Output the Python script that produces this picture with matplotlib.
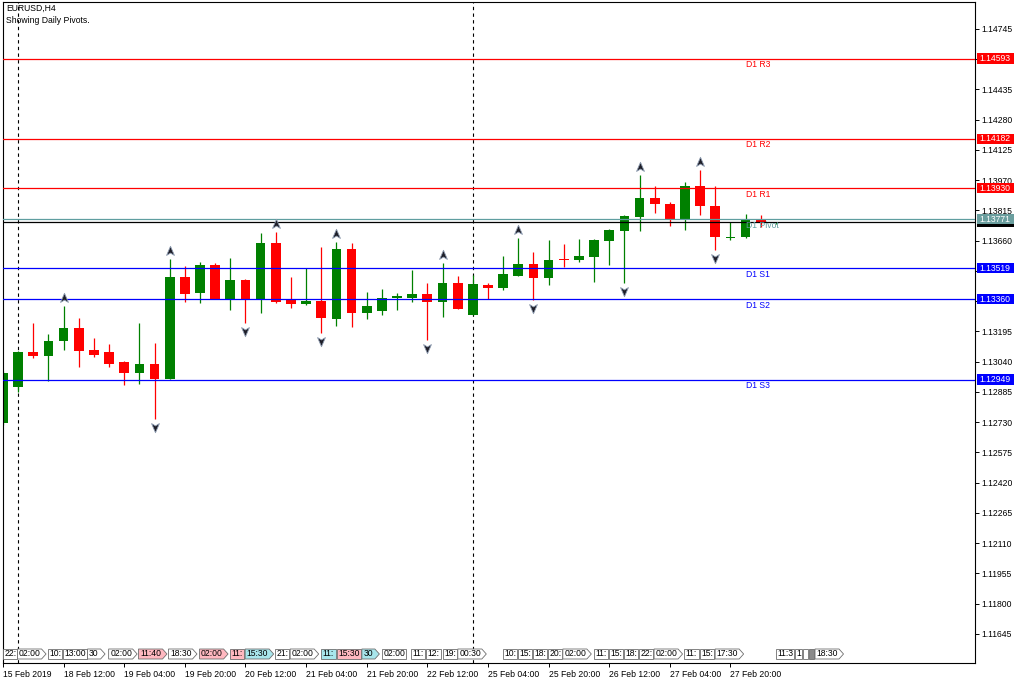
import numpy as np
import matplotlib
matplotlib.use('Agg')
import matplotlib.pyplot as plt
import matplotlib.transforms as mtransforms
from matplotlib.patches import Rectangle, Polygon
from matplotlib.path import Path

plt.rcParams['font.family'] = ['Liberation Sans', 'DejaVu Sans']
FS = 6.2

# EURUSD H4 bars, 15 Feb 2019 20:00 ... 28 Feb 2019 08:00
opens = [1.12725, 1.12912, 1.13088, 1.13071, 1.13145, 1.13211, 1.13100, 1.13090, 1.13039, 1.12984,
         1.13027, 1.12953, 1.13473, 1.13394, 1.13537, 1.13362, 1.13459, 1.13356, 1.13650, 1.13360,
         1.13336, 1.13353, 1.13258, 1.13616, 1.13291, 1.13300, 1.13368, 1.13368, 1.13387, 1.13348,
         1.13445, 1.13280, 1.13435, 1.13419, 1.13479, 1.13539, 1.13468, 1.13568, 1.13561, 1.13578,
         1.13660, 1.13710, 1.13783, 1.13878, 1.13848, 1.13770, 1.13941, 1.13838, 1.13674, 1.13681,
         1.13766, 1.13750]
highs = [1.12993, 1.13093, 1.13240, 1.13181, 1.13327, 1.13264, 1.13160, 1.13129, 1.13044, 1.13237,
         1.13135, 1.13565, 1.13531, 1.13551, 1.13544, 1.13570, 1.13464, 1.13698, 1.13703, 1.13473,
         1.13519, 1.13626, 1.13655, 1.13650, 1.13397, 1.13413, 1.13391, 1.13510, 1.13442, 1.13548,
         1.13479, 1.13485, 1.13445, 1.13582, 1.13673, 1.13601, 1.13664, 1.13642, 1.13667, 1.13667,
         1.13718, 1.13792, 1.13997, 1.13942, 1.13860, 1.13963, 1.14023, 1.13942, 1.13758, 1.13797,
         1.13792, 1.13758]
lows = [1.12718, 1.12883, 1.13058, 1.12941, 1.13100, 1.13015, 1.13066, 1.13015, 1.12921, 1.12926,
        1.12745, 1.12952, 1.13345, 1.13340, 1.13359, 1.13305, 1.13237, 1.13291, 1.13340, 1.13317,
        1.13333, 1.13189, 1.13223, 1.13220, 1.13258, 1.13280, 1.13305, 1.13348, 1.13151, 1.13271,
        1.13308, 1.13277, 1.13362, 1.13408, 1.13477, 1.13356, 1.13433, 1.13527, 1.13553, 1.13447,
        1.13536, 1.13442, 1.13710, 1.13804, 1.13736, 1.13715, 1.13792, 1.13612, 1.13664, 1.13673,
        1.13732, 1.13748]
closes = [1.12981, 1.13088, 1.13071, 1.13148, 1.13211, 1.13097, 1.13076, 1.13028, 1.12984, 1.13027,
          1.12953, 1.13473, 1.13389, 1.13537, 1.13362, 1.13459, 1.13356, 1.13650, 1.13345, 1.13334,
          1.13353, 1.13263, 1.13619, 1.13291, 1.13326, 1.13368, 1.13378, 1.13387, 1.13348, 1.13445,
          1.13310, 1.13437, 1.13419, 1.13490, 1.13539, 1.13468, 1.13561, 1.13561, 1.13582, 1.13664,
          1.13715, 1.13787, 1.13878, 1.13847, 1.13770, 1.13941, 1.13838, 1.13681, 1.13678, 1.13766,
          1.13752, 1.13755]

# daily pivot levels
pivot_names = ['D1 R3', 'D1 R2', 'D1 R1', 'D1 Pivot', 'D1 S1', 'D1 S2', 'D1 S3']
pivot_values = [1.14593, 1.14182, 1.13930, 1.13771, 1.13519, 1.13360, 1.12949]
pivot_colors = ['#FF0000', '#FF0000', '#FF0000', '#5F9EA0', '#0000FF', '#0000FF', '#0000FF']
pivot_box = ['#FF0000', '#FF0000', '#FF0000', '#6A9E9E', '#0000FF', '#0000FF', '#0000FF']
bid = 1.13755

# fractals (bar index)
frac_up = [4, 11, 18, 22, 29, 34, 42, 46]
frac_dn = [10, 16, 21, 28, 35, 41, 47]

# weekly separators (first bar of week)
week_start = [1, 31]

date_pos = [0, 4, 8, 12, 16, 20, 24, 28, 32, 36, 40, 44, 48]
date_labels = ['15 Feb 2019', '18 Feb 12:00', '19 Feb 04:00', '19 Feb 20:00', '20 Feb 12:00',
               '21 Feb 04:00', '21 Feb 20:00', '22 Feb 12:00', '25 Feb 04:00', '25 Feb 20:00',
               '26 Feb 12:00', '27 Feb 04:00', '27 Feb 20:00']

# economic calendar events (bar position, label, kind)
ev_pos = [0.0, 0.96, 2.97, 3.93, 5.58, 6.97, 8.94, 10.92, 12.97, 14.99, 15.98, 17.96, 18.95,
          20.98, 22.03, 23.68, 25.0, 26.93, 27.92, 29.02, 30.01, 32.98, 33.95, 34.96, 35.99,
          36.94, 38.99, 40.01, 41.0, 41.99, 42.96, 44.94, 46.0, 46.99, 51.01, 52.26, 52.8,
          53.2, 53.58]
ev_text = ['22:', '02:00', '10:', '13:00', '30', '02:00', '11:40', '18:30', '02:00', '11:',
           '15:30', '21:', '02:00', '11:', '15:30', '30', '02:00', '11:', '12:', '19:', '00:30',
           '10:', '15:', '18:', '20:', '02:00', '11:', '15:', '18:', '22:', '02:00', '11:', '15:',
           '17:30', '11:3', '1', '', '', '18:30']
ev_kind = ['n', 'n', 'n', 'n', 'n', 'n', 'r', 'n', 'r', 'r', 'c', 'n', 'n', 'c', 'r', 'c', 'n',
           'n', 'n', 'n', 'n', 'n', 'n', 'n', 'n', 'n', 'n', 'n', 'n', 'n', 'n', 'n', 'n', 'n',
           'n', 'n', 'n', 'g', 'n']

W, H = 1024, 683
fig = plt.figure(figsize=(W / 100, H / 100), dpi=100)
L, R, T, B = 3, 975, 2, 663
ax = fig.add_axes([L / W, 1 - B / H, (R - L) / W, (B - T) / H])

x0_px, bar_px = 2.7, 15.16
ax.set_xlim((L - x0_px) / bar_px, (R - x0_px) / bar_px)
ref_p, ref_y, px_per_price = 1.14745, 29, 19516
ax.set_ylim(ref_p - (B - ref_y) / px_per_price, ref_p + (ref_y - T) / px_per_price)

# candles
o, h, l, c = map(np.array, (opens, highs, lows, closes))
x = np.arange(len(o))
col = np.where(c >= o, '#008000', '#FF0000')
ax.vlines(x, l, h, colors=col, lw=0.9, zorder=2)
body = np.maximum(np.abs(c - o), 1.4 / px_per_price)
ax.bar(x, body, bottom=(o + c) / 2 - body / 2, width=0.64, color=col, linewidth=0, zorder=2.2)

# week separators
for w in week_start:
    ax.axvline(w, color='black', lw=0.8, ls=(0, (3, 3)), zorder=1.5)

# pivot lines and labels
for name, v, cl in zip(pivot_names, pivot_values, pivot_colors):
    ax.axhline(v, color=cl, lw=0.9, zorder=3)
    ax.text(49, v - 1.5 / px_per_price, name, color=cl, fontsize=FS, ha='left', va='top', zorder=4)
ax.axhline(bid, color='black', lw=0.9, zorder=3)

# fractal arrows
arrow_up = Path([(0, 1), (0.75, -0.75), (0, -0.3), (-0.75, -0.75), (0, 1)],
                [Path.MOVETO, Path.LINETO, Path.LINETO, Path.LINETO, Path.CLOSEPOLY])
arrow_dn = Path([(0, -1), (0.75, 0.75), (0, 0.3), (-0.75, 0.75), (0, -1)],
                [Path.MOVETO, Path.LINETO, Path.LINETO, Path.LINETO, Path.CLOSEPOLY])
off_up = mtransforms.offset_copy(ax.transData, fig=fig, y=8, units='dots')
off_dn = mtransforms.offset_copy(ax.transData, fig=fig, y=-8, units='dots')
ax.plot(frac_up, h[frac_up], ls='none', marker=arrow_up, ms=7.5, mfc='#1e1e28', mec='#8d9bb0',
        mew=0.6, transform=off_up, zorder=5)
ax.plot(frac_dn, l[frac_dn], ls='none', marker=arrow_dn, ms=7.5, mfc='#1e1e28', mec='#8d9bb0',
        mew=0.6, transform=off_dn, zorder=5)

# axes styling
for s in ax.spines.values():
    s.set_color('black')
    s.set_linewidth(0.8)
ax.yaxis.tick_right()
yt = np.round(1.11645 + 0.00155 * np.arange(21), 5)
ax.set_yticks(yt)
# labels hidden under the price boxes are left blank
box_levels = pivot_values + [bid]
ax.set_yticklabels(['' if min(abs(v - b) for b in box_levels) * px_per_price < 7 else f'{v:.5f}'
                    for v in yt])
ax.tick_params(axis='y', direction='out', length=3, width=0.7, pad=1.5, labelsize=FS)
ax.set_xticks(date_pos)
ax.set_xticklabels(date_labels, ha='left')
ax.tick_params(axis='x', direction='out', length=3, width=0.7, pad=2, labelsize=FS)

# price boxes on right scale
trans_r = mtransforms.blended_transform_factory(ax.transAxes, ax.transData)
half = 5.2 / px_per_price
bw = 37 / (R - L)
ax.add_patch(Rectangle((1.0018, bid - half), bw, 2 * half, transform=trans_r, fc='black',
                       ec='none', clip_on=False, zorder=6))
for v, fc in zip(pivot_values, pivot_box):
    ax.add_patch(Rectangle((1.0018, v - half), bw, 2 * half, transform=trans_r, fc=fc, ec='none',
                           clip_on=False, zorder=6))
    ax.text(1.0018 + 2.5 / (R - L), v, f'{v:.5f}', transform=trans_r, color='white', fontsize=FS,
            ha='left', va='center', clip_on=False, zorder=7)

# calendar event tags along the bottom
trans_b = mtransforms.blended_transform_factory(ax.transData, ax.transAxes)
yb, yt_ = (B - 659) / (B - T), (B - 649) / (B - T)
ym = (yb + yt_) / 2
fills = {'n': 'white', 'r': '#FFB8C0', 'c': '#A8E6EC', 'g': '#8a8a8a'}
for k, (p, txt, kind) in enumerate(zip(ev_pos, ev_text, ev_kind)):
    nat = (4.5 * sum(ch.isdigit() for ch in txt) + 2.0 * txt.count(':') + 4) / bar_px
    tag = len(txt) == 5 or txt == '30'
    tw = 4.5 / bar_px
    nxt = ev_pos[k + 1] if k + 1 < len(ev_pos) else 1e9
    room = nxt - p - 1.0 / bar_px
    if tag and nat + tw > room:
        tag = False
    wdt = min(nat, room) if not txt == '' else room
    if tag:
        pts = [(p, yb), (p + wdt, yb), (p + wdt + tw, ym), (p + wdt, yt_), (p, yt_)]
    else:
        pts = [(p, yb), (p + wdt, yb), (p + wdt, yt_), (p, yt_)]
    ax.add_patch(Polygon(pts, closed=True, transform=trans_b, fc=fills[kind], ec='#6e6e6e',
                         lw=0.6, zorder=6))
    if txt:
        ax.text(p + 1.5 / bar_px, ym, txt, transform=trans_b, fontsize=FS, ha='left',
                va='center', zorder=7, clip_on=True)

fig.text(6 / W, 1 - 8.5 / H, 'EURUSD,H4', fontsize=FS, va='center', ha='left')
fig.text(6 / W, 1 - 20.5 / H, 'Showing Daily Pivots.', fontsize=FS, va='center', ha='left')

fig.savefig('out.png', dpi=100, facecolor='white')
